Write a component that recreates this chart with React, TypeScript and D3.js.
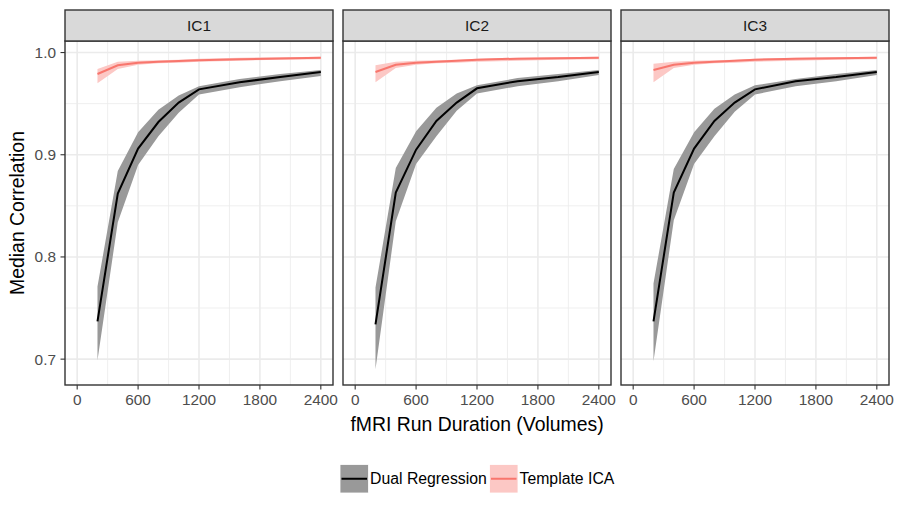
import * as React from 'react';
import * as d3 from 'd3';

// run durations (volumes) sampled in each panel
const durations = [200, 400, 600, 800, 1000, 1200, 1600, 2000, 2400];
const components = ['IC1', 'IC2', 'IC3'];
const methods = ['Dual Regression', 'Template ICA'];

// Dual Regression: median + band, per IC
const drMedIC1 = [0.737, 0.862, 0.906, 0.932, 0.951, 0.964, 0.971, 0.976, 0.981];
const drLowIC1 = [0.699, 0.834, 0.890, 0.918, 0.941, 0.959, 0.966, 0.972, 0.977];
const drHighIC1 = [0.771, 0.884, 0.922, 0.944, 0.958, 0.967, 0.974, 0.979, 0.983];

const drMedIC2 = [0.734, 0.863, 0.905, 0.933, 0.951, 0.965, 0.972, 0.976, 0.981];
const drLowIC2 = [0.690, 0.835, 0.891, 0.918, 0.943, 0.960, 0.967, 0.972, 0.978];
const drHighIC2 = [0.770, 0.887, 0.923, 0.946, 0.960, 0.968, 0.975, 0.979, 0.983];

const drMedIC3 = [0.737, 0.863, 0.906, 0.933, 0.951, 0.964, 0.972, 0.976, 0.981];
const drLowIC3 = [0.698, 0.836, 0.891, 0.918, 0.942, 0.959, 0.967, 0.972, 0.978];
const drHighIC3 = [0.774, 0.886, 0.922, 0.945, 0.959, 0.968, 0.974, 0.979, 0.983];

// Template ICA: median + band, per IC
const tiMedIC1 = [0.979, 0.9875, 0.990, 0.991, 0.9918, 0.9925, 0.9935, 0.9942, 0.9948];
const tiLowIC1 = [0.970, 0.984, 0.988, 0.9895, 0.990, 0.991, 0.992, 0.993, 0.9935];
const tiHighIC1 = [0.984, 0.991, 0.992, 0.9925, 0.993, 0.994, 0.995, 0.9955, 0.996];

const tiMedIC2 = [0.981, 0.988, 0.990, 0.991, 0.992, 0.993, 0.994, 0.9945, 0.995];
const tiLowIC2 = [0.971, 0.985, 0.988, 0.9895, 0.990, 0.991, 0.992, 0.993, 0.9935];
const tiHighIC2 = [0.9875, 0.991, 0.992, 0.9925, 0.993, 0.994, 0.995, 0.9955, 0.996];

const tiMedIC3 = [0.983, 0.988, 0.990, 0.991, 0.992, 0.993, 0.994, 0.9945, 0.995];
const tiLowIC3 = [0.971, 0.985, 0.988, 0.9895, 0.990, 0.991, 0.992, 0.993, 0.9935];
const tiHighIC3 = [0.989, 0.991, 0.992, 0.9925, 0.993, 0.994, 0.995, 0.9955, 0.996];

const xTicks = [0, 600, 1200, 1800, 2400];
const xMinor = [300, 900, 1500, 2100];
const yTicks = [0.7, 0.8, 0.9, 1.0];
const yMinor = [0.75, 0.85, 0.95];

const panels = [
    { dr: [drMedIC1, drLowIC1, drHighIC1], ti: [tiMedIC1, tiLowIC1, tiHighIC1] },
    { dr: [drMedIC2, drLowIC2, drHighIC2], ti: [tiMedIC2, tiLowIC2, tiHighIC2] },
    { dr: [drMedIC3, drLowIC3, drHighIC3], ti: [tiMedIC3, tiLowIC3, tiHighIC3] },
];

const lineColor = ['#000000', '#F8766D'];
const fillColor = ['#999999', '#FCC8C5'];

const FONT = '"Liberation Sans", Arial, Helvetica, sans-serif';

const App: React.FC = () => {
    const width = 900;
    const height = 514;
    const panelLeft = [65, 343, 621];
    const panelW = 268;
    const stripTop = 10;
    const stripH = 31;
    const top = stripTop + stripH;
    const bottom = 385;

    // ggplot style 5% expansion
    const xs = d3.scaleLinear().domain([-120, 2520]).range([0, panelW]);
    const allY = panels.flatMap(p => [...p.dr[1], ...p.dr[2], ...p.ti[1], ...p.ti[2]]);
    const [yLo, yHi] = d3.extent(allY) as [number, number];
    const pad = (yHi - yLo) * 0.05;
    const ys = d3.scaleLinear().domain([yLo - pad, yHi + pad]).range([bottom, top]);

    const line = d3.line<number>().x((d, i) => xs(durations[i])).y(d => ys(d));
    const band = (lo: number[], hi: number[]) =>
        d3.area<number>()
            .x((d, i) => xs(durations[i]))
            .y0((d, i) => ys(lo[i]))
            .y1((d, i) => ys(hi[i]))(lo) as string;

    const legendKeys = [340, 489.5];

    return (
        <svg width={width} height={height} style={{ position: 'absolute', left: 0, top: 0 }}
            fontFamily={FONT}>
            <rect width={width} height={height} fill="white" />

            {panels.map((p, k) => (
                <g key={k} transform={`translate(${panelLeft[k]},0)`}>
                    {yMinor.map(v => (
                        <line key={'ym' + v} x1={0} x2={panelW} y1={ys(v)} y2={ys(v)} stroke="#EBEBEB" strokeWidth={0.8} />
                    ))}
                    {xMinor.map(v => (
                        <line key={'xm' + v} x1={xs(v)} x2={xs(v)} y1={top} y2={bottom} stroke="#EBEBEB" strokeWidth={0.8} />
                    ))}
                    {yTicks.map(v => (
                        <line key={'y' + v} x1={0} x2={panelW} y1={ys(v)} y2={ys(v)} stroke="#EBEBEB" strokeWidth={1.6} />
                    ))}
                    {xTicks.map(v => (
                        <line key={'x' + v} x1={xs(v)} x2={xs(v)} y1={top} y2={bottom} stroke="#EBEBEB" strokeWidth={1.6} />
                    ))}

                    {[p.dr, p.ti].map((s, m) => (
                        <path key={'b' + m} d={band(s[1], s[2])} fill={fillColor[m]} stroke="none" />
                    ))}
                    {[p.dr, p.ti].map((s, m) => (
                        <path key={'l' + m} d={line(s[0]) as string} fill="none" stroke={lineColor[m]} strokeWidth={2} />
                    ))}

                    <rect x={0} y={top} width={panelW} height={bottom - top} fill="none" stroke="#333333" strokeWidth={1.4} />
                    <rect x={0} y={stripTop} width={panelW} height={stripH} fill="#D9D9D9" stroke="#333333" strokeWidth={1.4} />
                    <text x={panelW / 2} y={stripTop + stripH / 2} textAnchor="middle" dominantBaseline="central"
                        fontSize={15.4} fill="#1A1A1A">{components[k]}</text>

                    {xTicks.map(v => (
                        <g key={'xt' + v}>
                            <line x1={xs(v)} x2={xs(v)} y1={bottom} y2={bottom + 4.5} stroke="#333333" strokeWidth={1.1} />
                            <text x={xs(v)} y={405} textAnchor="middle" fontSize={15.4} fill="#4D4D4D">{v}</text>
                        </g>
                    ))}
                </g>
            ))}

            {yTicks.map(v => (
                <g key={'yt' + v}>
                    <line x1={60.5} x2={65} y1={ys(v)} y2={ys(v)} stroke="#333333" strokeWidth={1.1} />
                    <text x={56} y={ys(v)} textAnchor="end" dominantBaseline="central" fontSize={15.4} fill="#4D4D4D">
                        {d3.format('.1f')(v)}
                    </text>
                </g>
            ))}

            <text x={477} y={431} textAnchor="middle" fontSize={19.4} fill="#000">fMRI Run Duration (Volumes)</text>
            <text transform={`translate(24,${(top + bottom) / 2}) rotate(-90)`} textAnchor="middle" fontSize={19.4} fill="#000">
                Median Correlation
            </text>

            {methods.map((m, i) => (
                <g key={m} transform={`translate(${legendKeys[i]},464.5)`}>
                    <rect x={0} y={0} width={28.5} height={28.5} fill={fillColor[i]} stroke="white" strokeWidth={0.8} />
                    <line x1={1.5} x2={27} y1={14.25} y2={14.25} stroke={lineColor[i]} strokeWidth={2} />
                    <text x={30} y={14.25} dominantBaseline="central" fontSize={15.8} fill="#000">{m}</text>
                </g>
            ))}
        </svg>
    );
};

export default App;
